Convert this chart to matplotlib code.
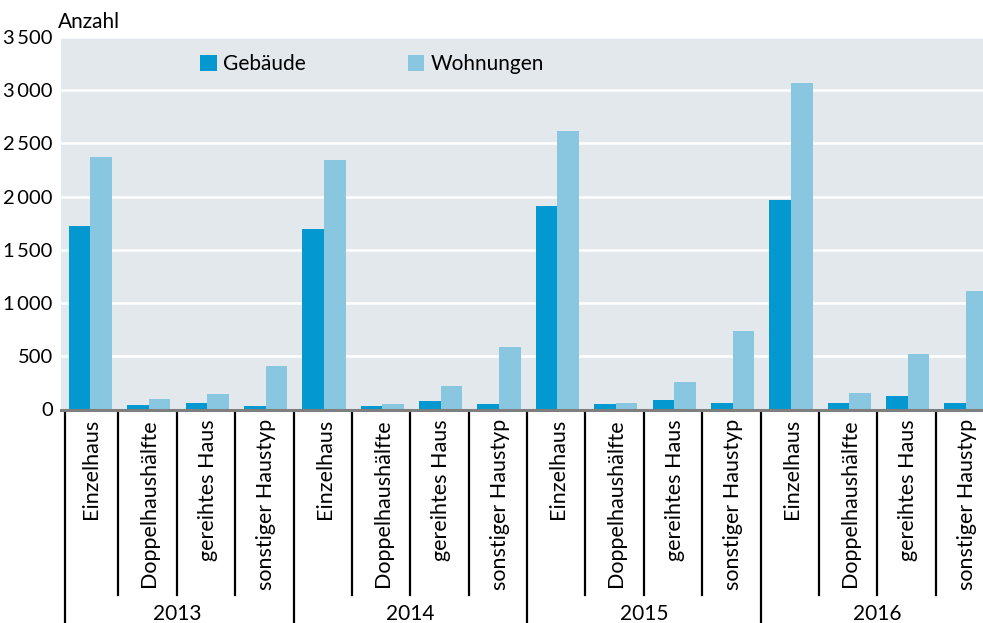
import matplotlib.pyplot as plt
import matplotlib.transforms as mtransforms
import numpy as np

plt.rcParams['font.family'] = ['Lato', 'DejaVu Sans']

# data
years = ['2013', '2014', '2015', '2016']
types = ['Einzelhaus', 'Doppelhaushälfte', 'gereihtes Haus', 'sonstiger Haustyp']
gebaeude = [1722, 42, 61, 33,
            1693, 33, 80, 52,
            1910, 52, 89, 61,
            1966, 61, 127, 61]
wohnungen = [2371, 99, 146, 409,
             2343, 52, 221, 588,
             2615, 61, 259, 735,
             3067, 155, 517, 1110]
yticks = [0, 500, 1000, 1500, 2000, 2500, 3000, 3500]

c_dark = '#0399d0'
c_light = '#89c6df'
bg = '#e3e8ec'

W, H = 983, 623
fig = plt.figure(figsize=(W / 100, H / 100), dpi=100)
ax = fig.add_axes([61 / W, 1 - 409.5 / H, 1 - 61 / W, (409.5 - 37) / H])
ax.set_facecolor(bg)

n = len(gebaeude)
x = np.arange(n)
bw = 0.37
ax.bar(x - bw / 2, gebaeude, bw, color=c_dark, label='Gebäude', zorder=3)
ax.bar(x + bw / 2, wohnungen, bw, color=c_light, label='Wohnungen', zorder=3)

ax.set_xlim(-0.505, 15.29)
ax.set_ylim(0, 3500)
ax.set_yticks(yticks)
ax.set_yticklabels([f'{v:,}'.replace(',', '\u2009') for v in yticks], fontsize=14.5)
ax.tick_params(axis='y', length=0, pad=6)
ax.set_xticks([])
ax.grid(axis='y', color='white', linewidth=1.8, zorder=1)
for s in ['top', 'right', 'left']:
    ax.spines[s].set_visible(False)
ax.spines['bottom'].set_color('#7f7f7f')
ax.spines['bottom'].set_linewidth(2.2)
ax.spines['bottom'].set_zorder(4)

fig.text(58 / W, 1 - 22 / H, 'Anzahl', fontsize=15, va='center', ha='left')

# separators and labels below the axis
tr = mtransforms.blended_transform_factory(ax.transData, fig.transFigure)
seps = [-0.44] + [i - 0.52 for i in range(1, n + 1)]
for i, xs in enumerate(seps):
    ybot = 0 if i % 4 == 0 else 1 - 595 / H
    ax.plot([xs, xs], [1 - 411 / H, ybot], color='black', lw=1.6,
            transform=tr, clip_on=False)
for i in range(n):
    ax.text(i + 0.01, 1 - 419 / H, types[i % 4], rotation=90, ha='center',
            va='top', fontsize=15.5, transform=tr)
for k, yr in enumerate(years):
    ax.text(4 * k + 1.48, 1 - 614 / H, yr, ha='center', va='center',
            fontsize=15, transform=tr)

ax.legend(loc='upper left', bbox_to_anchor=(200 / W, 1 - 54 / H),
          bbox_transform=fig.transFigure, ncol=2, frameon=False,
          fontsize=15, handlelength=0.8, handleheight=0.8,
          handletextpad=0.3, columnspacing=4.9, borderpad=0, borderaxespad=0)

fig.savefig('out.png', dpi=100)
